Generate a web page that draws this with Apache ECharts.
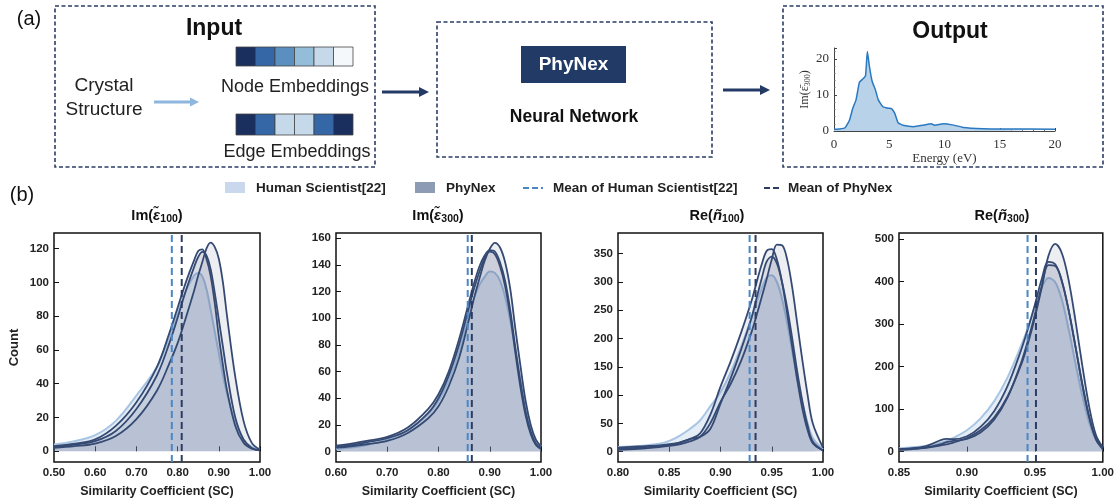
<!DOCTYPE html>
<html><head><meta charset="utf-8">
<script src="https://cdn.jsdelivr.net/npm/echarts@6/dist/echarts.min.js"></script>
<style>html,body{margin:0;padding:0;background:#fff}#c{width:1117px;height:499px}</style>
</head><body><div id="c"></div>
<script>
// ---------- DATA ----------
// Panel (b) subplot 1: Im(eps_100)
const p1X      = [0.50,0.55,0.60,0.65,0.70,0.75,0.78,0.80,0.82,0.84,0.85,0.86,0.87,0.88,0.89,0.90,0.91,0.92,0.94,0.96,0.98,1.00];
const p1Human  = [4,6,9.5,18,33,50,68,82,95,104,105.5,103.5,96,84,71,58,45,34,17,7,2.5,1];
const p1RunA   = [3,4.5,7,15,29,50,70,85,100,113,118.5,119.5,114,104,88,68,51,36,15,5,1.5,0.5];
const p1RunB   = [2.5,4,6,12,25,45,64,79,95,109,115,118,116,108,94,78,62,46,20,7,2,0.5];
const p1RunC   = [2,3,4.5,9,19,36,52,64,79,95,104,112,120,123.5,121,114,100,80,44,18,5,1];
const p1Means  = [0.786, 0.810];
// subplot 2: Im(eps_300)
const p2X      = [0.60,0.63,0.66,0.70,0.74,0.78,0.80,0.82,0.84,0.86,0.87,0.88,0.89,0.90,0.91,0.92,0.93,0.94,0.95,0.96,0.97,0.98,0.99,1.00];
const p2Human  = [2,3,5,9,16,28,38,53,75,104,116,125,131,135,134,128,116,98,76,54,33,18,8,4];
const p2RunA   = [3,4,5.5,8,14,25,34,49,70,100,116,130,143,152,156.5,153,142,122,92,64,38,20,9,4];
const p2RunB   = [4.5,6,8,11,18,32,43,60,84,113,127,139,147,151,150,142,128,106,78,52,30,15,6,2.5];
const p2RunC   = [3.5,5,7,10,16,29,40,57,80,109,123,135,145,150,148,139,124,102,74,48,27,13,5,2];
const p2Means  = [0.857, 0.865];
// subplot 3: Re(n_100)
const p3X      = [0.80,0.82,0.84,0.85,0.86,0.87,0.88,0.89,0.90,0.91,0.92,0.93,0.935,0.94,0.945,0.95,0.955,0.96,0.965,0.97,0.975,0.98,0.985,0.99,1.00];
const p3Human  = [8,10,14,19,28,40,55,80,105,140,185,235,262,288,308,312,300,270,228,178,128,85,50,24,4];
const p3RunA   = [3,5,8,10,13,18,26,50,88,120,160,210,240,272,305,340,366,365,340,290,225,160,100,50,7];
const p3RunB   = [7,9,11,13,16,22,32,65,115,160,210,265,298,330,355,358,340,300,245,185,125,75,38,15,2];
const p3RunC   = [5,7,10,12,16,22,26,40,85,130,180,235,270,305,336,345,333,300,255,200,140,88,46,18,2];
const p3Means  = [0.9284, 0.9342];
// subplot 4: Re(n_300)
const p4X      = [0.85,0.86,0.87,0.88,0.885,0.89,0.90,0.91,0.92,0.93,0.94,0.945,0.95,0.955,0.96,0.965,0.97,0.975,0.98,0.985,0.99,0.995,1.00];
const p4Human  = [8,10,14,20,25,32,50,78,118,175,250,292,340,385,408,398,355,285,205,130,68,28,8];
const p4RunA   = [4,6,9,14,17,21,32,50,80,130,205,255,315,385,460,488,465,400,305,200,105,38,10];
const p4RunB   = [6,8,13,26,30,29,36,58,95,155,240,290,345,405,446,440,400,330,245,155,80,28,6];
const p4RunC   = [5,7,10,17,22,25,30,45,75,128,210,262,322,388,438,436,398,330,245,158,82,30,7];
const p4Means  = [0.9446, 0.9508];
// tick labels
const p1XTicks = [0.5,0.6,0.7,0.8,0.9,1.0];
const p2XTicks = [0.6,0.7,0.8,0.9,1.0];
const p3XTicks = [0.80,0.85,0.90,0.95,1.00];
const p4XTicks = [0.85,0.90,0.95,1.00];
const p1YTicks = [0,20,40,60,80,100,120];
const p2YTicks = [0,20,40,60,80,100,120,140,160];
const p3YTicks = [0,50,100,150,200,250,300,350];
const p4YTicks = [0,100,200,300,400,500];
// Panel (a) inset spectrum
const specE  = [0,0.5,1.0,1.4,1.7,2.0,2.3,2.6,2.85,3.02,3.2,3.45,3.75,4.0,4.4,4.9,5.2,5.5,5.8,6.25,7.2,8.1,8.8,9.1,9.9,10.7,11.7,13.5,15.3,20];
const specIm = [0.5,0.55,0.9,3.0,6.3,8.7,13.5,14.4,15.3,22,18,13.8,11.4,8.7,6.8,6.3,6.2,4.9,2.3,1.6,1.2,1.6,2.0,1.6,2.0,1.7,1.0,0.65,0.55,0.5];
const nodeColors = ['#1b2f5e','#3566a6','#5b8fc0','#94bdda','#c5d9eb','#f4f8fa'];
const edgeColors = ['#1b2f5e','#3566a6','#c5d9eb','#c5d9eb','#3566a6','#1b2f5e'];

// ---------- STYLE ----------
const FF = '"Liberation Sans", Arial, sans-serif';
const SERIF = '"Liberation Serif", "DejaVu Serif", serif';
const NAVY = '#2b3d66';
const HUMAN_LINE = '#a9c5e4', HUMAN_FILL = 'rgba(172,199,230,0.45)';
const RUN_LINE = '#354a73', RUN_FILL = 'rgba(55,72,112,0.13)';
const MEAN_H = '#4b87c6', MEAN_P = '#2d3c63';

const panels = [
  {grid:{left:54,top:233,width:206,height:235}, xMin:0.5,xMax:1.0,xTicks:p1XTicks,yMin:-6.35,yMax:129.2,yTicks:p1YTicks,x:p1X,human:p1Human,runs:[p1RunA,p1RunB,p1RunC],means:p1Means},
  {grid:{left:336,top:233,width:205,height:235}, xMin:0.6,xMax:1.0,xTicks:p2XTicks,yMin:-7.8,yMax:163.9,yTicks:p2YTicks,x:p2X,human:p2Human,runs:[p2RunA,p2RunB,p2RunC],means:p2Means},
  {grid:{left:618,top:233,width:205,height:235}, xMin:0.8,xMax:1.0,xTicks:p3XTicks,yMin:-18.4,yMax:386.7,yTicks:p3YTicks,x:p3X,human:p3Human,runs:[p3RunA,p3RunB,p3RunC],means:p3Means},
  {grid:{left:899,top:233,width:206,height:235}, xMin:0.85,xMax:1.0,xTicks:p4XTicks,yMin:-24.5,yMax:513.7,yTicks:p4YTicks,x:p4X,human:p4Human,runs:[p4RunA,p4RunB,p4RunC],means:p4Means}
];
const pairs = (xs, ys) => xs.map((x,i)=>[x, ys[i]]);
const meanLine = (gi, name, value, p, color) => ({type:'line', name, xAxisIndex:gi, yAxisIndex:gi,
  data:[[value, p.yMin],[value, p.yMax]], symbol:'none', silent:true, z:10,
  lineStyle:{color, type:[7,4], width:2}});

const grids = [], xAxes = [], yAxes = [], series = [];
panels.forEach((p, gi) => {
  grids.push(Object.assign({show:true, borderColor:'#111', borderWidth:1.5, backgroundColor:'transparent'}, p.grid));
  xAxes.push({gridIndex:gi, type:'value', min:p.xMin, max:p.xMax,
    axisLine:{show:false}, splitLine:{show:false},
    axisTick:{show:true, inside:true, length:5, lineStyle:{color:'#111', width:1}, customValues:p.xTicks},
    axisLabel:{show:true, customValues:p.xTicks, formatter:v=>v.toFixed(2), fontFamily:FF, fontWeight:'bold', fontSize:11.5, color:'#222', margin:5},
    name:'Similarity Coefficient (SC)', nameLocation:'middle', nameGap:23,
    nameTextStyle:{fontFamily:FF, fontWeight:'bold', fontSize:12.5, color:'#222'}});
  yAxes.push({gridIndex:gi, type:'value', min:p.yMin, max:p.yMax,
    axisLine:{show:false}, splitLine:{show:false},
    axisTick:{show:true, inside:true, length:5, lineStyle:{color:'#111', width:1}, customValues:p.yTicks},
    axisLabel:{show:true, customValues:p.yTicks, fontFamily:FF, fontWeight:'bold', fontSize:11.5, color:'#222', margin:5},
    name: gi===0 ? 'Count' : '', nameLocation:'middle', nameGap:33,
    nameTextStyle:{fontFamily:FF, fontWeight:'bold', fontSize:13, color:'#222'}});
  series.push({type:'line', name:'Human Scientist[22]', xAxisIndex:gi, yAxisIndex:gi, data:pairs(p.x,p.human),
    smooth:0.35, symbol:'none', lineStyle:{color:HUMAN_LINE, width:2}, areaStyle:{color:HUMAN_FILL, origin:0}, silent:true, z:2});
  p.runs.forEach(r => {
    series.push({type:'line', name:'PhyNex', xAxisIndex:gi, yAxisIndex:gi, data:pairs(p.x,r),
      smooth:0.35, symbol:'none', lineStyle:{color:RUN_LINE, width:1.8}, areaStyle:{color:RUN_FILL, origin:0}, silent:true, z:3});
  });
  series.push(meanLine(gi, 'Mean of Human Scientist[22]', p.means[0], p, MEAN_H));
  series.push(meanLine(gi, 'Mean of PhyNex', p.means[1], p, MEAN_P));
});
// inset grid (index 4)
grids.push({left:834, top:48, width:221, height:83, show:false});
xAxes.push({gridIndex:4, type:'value', min:0, max:20, interval:5,
  axisLine:{show:true, lineStyle:{color:'#444', width:1}}, splitLine:{show:false},
  axisTick:{inside:true, length:3, lineStyle:{color:'#444'}}, minorTick:{show:true, splitNumber:5, length:1.5, lineStyle:{color:'#666'}},
  axisLabel:{fontFamily:SERIF, fontSize:13, color:'#333', margin:7},
  name:'Energy (eV)', nameLocation:'middle', nameGap:21, nameTextStyle:{fontFamily:SERIF, fontSize:13, color:'#333'}});
yAxes.push({gridIndex:4, type:'value', min:0, max:23, interval:10,
  axisLine:{show:true, lineStyle:{color:'#444', width:1}}, splitLine:{show:false},
  axisTick:{inside:true, length:3, lineStyle:{color:'#444'}}, minorTick:{show:true, splitNumber:5, length:1.5, lineStyle:{color:'#666'}},
  axisLabel:{fontFamily:SERIF, fontSize:13, color:'#333', margin:5},
  name:'{a|Im(ε\u0304}{s|300}{a|)}', nameLocation:'middle', nameGap:22, nameRotate:90,
  nameTextStyle:{rich:{a:{fontFamily:SERIF, fontSize:12, color:'#333', lineHeight:14}, s:{fontFamily:SERIF, fontSize:8, color:'#333', verticalAlign:'bottom', lineHeight:8}}}});
series.push({type:'line', xAxisIndex:4, yAxisIndex:4, data:pairs(specE, specIm), smooth:0.15, symbol:'none',
  lineStyle:{color:'#2a79c0', width:1.5}, areaStyle:{color:'#b8d2ea', opacity:1}, silent:true});

// ---------- GRAPHICS (panel a, legend, titles) ----------
const T = (text, x, y, font, fill, align) => ({type:'text', silent:true, style:{text, x, y, font, fill:fill||'#111',
  align:align||'center', verticalAlign:'middle', textAlign:align||'center', textVerticalAlign:'middle'}});
const dashedBox = (x,y,w,h) => ({type:'rect', silent:true, shape:{x,y,width:w,height:h}, style:{fill:'none', stroke:NAVY, lineWidth:1.6, lineDash:[4,2.5]}});
const arrow = (x1,x2,y,color,w,head) => ([
  {type:'line', silent:true, shape:{x1, y1:y, x2:x2-head, y2:y}, style:{stroke:color, lineWidth:w}},
  {type:'polygon', silent:true, shape:{points:[[x2-head-1,y-head*0.55],[x2,y],[x2-head-1,y+head*0.55]]}, style:{fill:color}}
]);
const els = [];
els.push(T('(a)', 29, 19, '20px '+FF, '#111'));
els.push(T('(b)', 22, 195, '20px '+FF, '#111'));
els.push(dashedBox(55,6,320,161));
els.push(dashedBox(437,22,275,135));
els.push(dashedBox(783,6,320,161));
els.push(T('Input', 214, 29, 'bold 23px '+FF));
els.push(T('Output', 950, 32, 'bold 23px '+FF));
els.push(T('Crystal', 104, 86, '19px '+FF, '#222'));
els.push(T('Structure', 104, 110, '19px '+FF, '#222'));
els.push(T('Node Embeddings', 295, 87, '18px '+FF, '#222'));
els.push(T('Edge Embeddings', 297, 152, '18px '+FF, '#222'));
nodeColors.forEach((c,i)=>els.push({type:'rect', silent:true, shape:{x:236+i*19.5, y:47, width:19.5, height:19}, style:{fill:c, stroke:'#444', lineWidth:0.8}}));
edgeColors.forEach((c,i)=>els.push({type:'rect', silent:true, shape:{x:236+i*19.5, y:114, width:19.5, height:21}, style:{fill:c, stroke:'#444', lineWidth:0.8}}));
els.push(...arrow(154,199,102,'#8fb6dc',3,8));
els.push(...arrow(382,429,92,'#243a66',3,9));
els.push(...arrow(723,770,90,'#243a66',3,9));
els.push({type:'rect', silent:true, shape:{x:521,y:46,width:105,height:37}, style:{fill:'#223a66'}});
els.push(T('PhyNex', 573.5, 65, 'bold 19px '+FF, '#fff'));
els.push(T('Neural Network', 574, 117, 'bold 17.5px '+FF, '#111'));
// legend
const LF = 'bold 13.5px '+FF;
els.push({type:'rect', silent:true, shape:{x:225,y:182,width:20,height:11}, style:{fill:'#c9d8ec'}});
els.push(T('Human Scientist[22]', 256, 188, LF, '#222', 'left'));
els.push({type:'rect', silent:true, shape:{x:415,y:182,width:20,height:11}, style:{fill:'#8e9bb5'}});
els.push(T('PhyNex', 446, 188, LF, '#222', 'left'));
els.push({type:'line', silent:true, shape:{x1:523,y1:188,x2:543,y2:188}, style:{stroke:MEAN_H, lineWidth:2, lineDash:[6,3]}});
els.push(T('Mean of Human Scientist[22]', 553, 188, LF, '#222', 'left'));
els.push({type:'line', silent:true, shape:{x1:764,y1:188,x2:781,y2:188}, style:{stroke:MEAN_P, lineWidth:2, lineDash:[6,3]}});
els.push(T('Mean of PhyNex', 788, 188, LF, '#222', 'left'));
// subplot titles
const titleRich = {
  a:{fontFamily:FF, fontWeight:'bold', fontSize:14.5, fill:'#111', lineHeight:18},
  b:{fontFamily:FF, fontWeight:'bold', fontStyle:'italic', fontSize:15, fill:'#111', lineHeight:18},
  s:{fontFamily:FF, fontWeight:'bold', fontSize:10.5, fill:'#111', lineHeight:10, verticalAlign:'bottom'}
};
const titles = [['Im(','ε\u0303','100',157],['Im(','ε\u0303','300',438],['Re(','ñ','100',717],['Re(','ñ','300',1002]];
titles.forEach(t => els.push({type:'text', silent:true, style:{text:'{a|'+t[0]+'}{b|'+t[1]+'}{s|'+t[2]+'}{a|)}', rich:titleRich,
  x:t[3], y:216, align:'center', verticalAlign:'middle', textAlign:'center', textVerticalAlign:'middle'}}));

const chart = echarts.init(document.getElementById('c'), null, {renderer:'canvas', width:1117, height:499});
chart.setOption({
  animation:false,
  backgroundColor:'#fff',
  grid:grids, xAxis:xAxes, yAxis:yAxes, series:series,
  graphic:{elements:els}
});
</script></body></html>
